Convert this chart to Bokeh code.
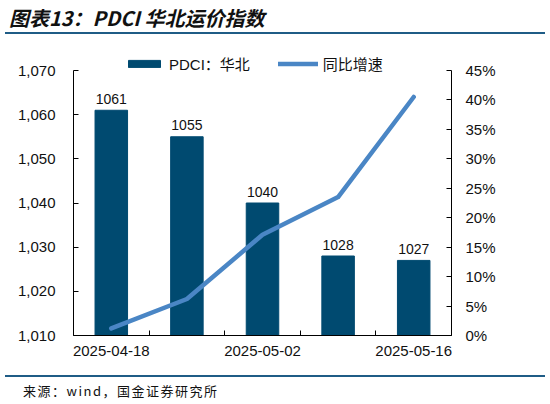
from bokeh.plotting import figure
from bokeh.models import (Range1d, LinearAxis, FixedTicker, NumeralTickFormatter,
                          CustomJSTickFormatter, Legend, LegendItem, Div, ColumnDataSource)
from bokeh.layouts import column
from bokeh.embed import file_html
from bokeh.resources import INLINE
from bokeh.core.properties import value

# ---- data ----
dates = ["2025-04-18", "2025-04-25", "2025-05-02", "2025-05-09", "2025-05-16"]
pdci_north = [1061, 1055, 1040, 1028, 1027]
yoy_growth = [0.012, 0.062, 0.171, 0.235, 0.405]
left_ticks = [1010, 1020, 1030, 1040, 1050, 1060, 1070]
right_ticks = [0.0, 0.05, 0.10, 0.15, 0.20, 0.25, 0.30, 0.35, 0.40, 0.45]
shown_date_idx = [0, 2, 4]

title_text = "图表13：PDCI 华北运价指数"
source_text = "来源：wind，国金证券研究所"
bar_name = "PDCI：华北"
line_name = "同比增速"

BAR_COLOR = "#004a70"
LINE_COLOR = "#4a86c5"
RULE_COLOR = "#1f5c86"
LATIN = "Liberation Sans"
CJK = "Noto Sans CJK SC"

# layout (pixels)
AXIS_PX = 265.0      # height of the drawn axes
HEAD_PX = 20.0       # extra frame room above the axes for the legend
head = HEAD_PX / AXIS_PX

idx = list(range(len(dates)))
src = ColumnDataSource(dict(x=idx, top=pdci_north, yoy=yoy_growth,
                            lbl=[str(v) for v in pdci_north]))

lo, hi = left_ticks[0], left_ticks[-1]
rlo, rhi = right_ticks[0], right_ticks[-1]
p = figure(width=545, height=341, output_backend="svg", toolbar_location=None,
           x_range=Range1d(-0.5, len(dates) - 0.5),
           y_range=Range1d(lo, hi + (hi - lo) * head),
           min_border_left=73, min_border_right=94, min_border_top=16,
           min_border_bottom=40, margin=(0, 0, 0, 0))
p.extra_y_ranges = {"pct": Range1d(rlo, rhi + (rhi - rlo) * head)}
p.xgrid.visible = False
p.ygrid.visible = False
p.outline_line_color = None
p.background_fill_color = "white"
p.border_fill_color = "white"

bars = p.vbar(x="x", top="top", bottom=lo, width=0.43, source=src,
              fill_color=BAR_COLOR, line_color=BAR_COLOR)
line = p.line(x="x", y="yoy", source=src, y_range_name="pct", line_color=LINE_COLOR,
              line_width=4.5, line_cap="round", line_join="round")
p.text(x="x", y="top", text="lbl", source=src, text_align="center",
       text_baseline="alphabetic", y_offset=-11.5, text_font=value(LATIN),
       text_font_size="14px", text_color="#111111")

# left axis
ya = p.yaxis[0]
ya.ticker = FixedTicker(ticks=left_ticks)
ya.formatter = NumeralTickFormatter(format="0,0")
ya.bounds = (lo, hi)
# right axis
ra = LinearAxis(y_range_name="pct", ticker=FixedTicker(ticks=right_ticks),
                formatter=NumeralTickFormatter(format="0%"), bounds=(rlo, rhi))
p.add_layout(ra, "right")
# bottom axis
xa = p.xaxis[0]
xa.ticker = FixedTicker(ticks=shown_date_idx, minor_ticks=[i - 0.5 for i in range(len(dates) + 1)])
xa.formatter = CustomJSTickFormatter(args=dict(labels=dates),
                                     code="return labels[Math.round(tick)] || '';")

for ax in (ya, ra):
    ax.major_tick_in = 5
    ax.major_tick_out = 0
    ax.minor_tick_line_color = None
for ax in (ya, ra, xa):
    ax.axis_line_color = "#000000"
    ax.major_tick_line_color = "#000000"
    ax.major_label_text_font = LATIN
    ax.major_label_text_font_size = "15px"
    ax.major_label_text_color = "#111111"
ya.major_label_standoff = 18
ra.major_label_standoff = 14
xa.major_tick_in = 0
xa.major_tick_out = 0
xa.major_tick_line_color = None
xa.minor_tick_in = 5
xa.minor_tick_out = 0
xa.minor_tick_line_color = "#000000"
xa.major_label_standoff = 10

legend = Legend(items=[LegendItem(label=bar_name, renderers=[bars]),
                       LegendItem(label=line_name, renderers=[line])],
                orientation="horizontal", location=(51, AXIS_PX - 4),
                glyph_width=40, glyph_height=9, label_height=15,
                label_standoff=5, spacing=28, padding=0, margin=0,
                border_line_color=None, background_fill_alpha=0,
                label_text_font=LATIN + ", " + CJK, label_text_font_size="15px",
                label_text_color="#111111")
p.add_layout(legend, "center")

title_div = Div(width=545, height=34, margin=(0, 0, 0, 0), styles={"overflow": "visible"}, text=(
    f"<div style=\"width:536px;margin-left:5px;height:24px;padding-top:8px;padding-left:4px;"
    f"border-bottom:2px solid {RULE_COLOR};box-sizing:content-box;"
    f"font-family:'{CJK}';font-style:italic;font-weight:bold;font-size:20px;line-height:20px;"
    f"color:#111;white-space:nowrap\">{title_text}</div>"))
footer_div = Div(width=545, height=29, margin=(0, 0, 0, 0), styles={"overflow": "visible"}, text=(
    f"<div style=\"width:540px;margin-left:5px;border-top:2px solid {RULE_COLOR};"
    f"font-family:'{CJK}';font-size:13px;line-height:14px;padding-top:7px;padding-left:18px;"
    f"box-sizing:border-box;letter-spacing:1.5px;color:#111;white-space:nowrap\">{source_text}</div>"))

layout = column(title_div, p, footer_div, spacing=0, margin=(0, 0, 0, 0))
open("out.html", "w").write(file_html(layout, INLINE))
